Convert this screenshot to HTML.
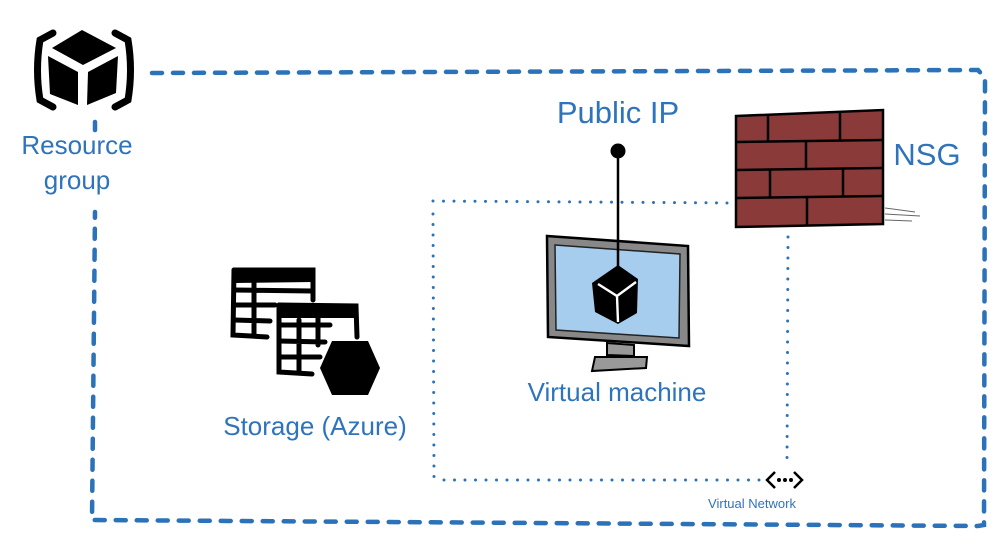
<!DOCTYPE html>
<html><head><meta charset="utf-8"><style>
html,body{margin:0;padding:0;background:#fff;}
svg{display:block;}
text{font-family:"Liberation Sans","DejaVu Sans",sans-serif;fill:#2f74bb;}
</style></head><body>
<svg width="1001" height="545" viewBox="0 0 1001 545" xmlns="http://www.w3.org/2000/svg">
<g fill="none" stroke="#2b72b8" stroke-width="4.5" stroke-linecap="round" stroke-dasharray="10 11">
<path d="M152 73 L978 70 L985 78 L984 525 L978 526 L92 520 L95 212"/>
<path d="M95 122 L95 130"/>
</g>
<g fill="none" stroke="#2b72b8" stroke-width="3" stroke-linecap="round" stroke-dasharray="0 10.5">
<path d="M433 201 L735 203"/>
<path d="M433 214 L434 477"/>
<path d="M444 480 L762 480"/>
<path d="M788 237 L787 462"/>
</g>
<g fill="none" stroke="#000" stroke-width="2.5">
<path d="M775 472 L767 480 L775 488"/><path d="M794 472 L802 480 L794 488"/>
</g>
<circle cx="779" cy="480" r="2" fill="#000"/><circle cx="785" cy="480" r="2" fill="#000"/><circle cx="791" cy="480" r="2" fill="#000"/>
<text x="752" y="508" font-size="13" text-anchor="middle">Virtual Network</text>

<g fill="none" stroke="#000" stroke-width="7" stroke-linecap="round">
<path d="M53 33 L40 40 Q35 70 40 100 L53 107"/>
<path d="M115 33 L128 40 Q133 70 128 100 L115 107"/>
</g>
<path d="M82 30 L116 48 L83 65 L52 48 Z" fill="#000"/>
<path d="M48 56 L78 72 L78 105 L50 94 Z" fill="#000"/>
<path d="M88 72 L118 56 L116 93 L87 105 Z" fill="#000"/>
<text x="77" y="154" font-size="26" text-anchor="middle">Resource</text>
<text x="77" y="189" font-size="26" text-anchor="middle">group</text>

<text x="618" y="123" font-size="31" text-anchor="middle">Public IP</text>

<path d="M547 236 L688 246 L689 346 L548 337 Z" fill="#888" stroke="#000" stroke-width="2.5"/>
<path d="M555 245 L680 254 L679 338 L556 330 Z" fill="#a6cdee" stroke="#222" stroke-width="1.5"/>
<path d="M607 343 L634 345 L634 356 L607 355 Z" fill="#999" stroke="#000" stroke-width="2"/>
<path d="M595 357 L647 357 L646 368 L592 371 Z" fill="#999" stroke="#000" stroke-width="2"/>
<circle cx="618" cy="151" r="7.5" fill="#000"/>
<line x1="618" y1="151" x2="618" y2="268" stroke="#000" stroke-width="2.5"/>
<path d="M618 265 L638 279 L637 313 L618 324 L595 312 L592 283 Z" fill="#000"/>
<path d="M598 284 L617 296 L636 282 M617 296 L618 322" stroke="#fff" stroke-width="2.4" fill="none"/>
<text x="617" y="401" font-size="26" text-anchor="middle">Virtual machine</text>

<path d="M736 116 L883 110 L883 224 L736 227 Z" fill="#8b3a3a" stroke="#000" stroke-width="2.5"/>
<g stroke="#000" stroke-width="2.5" fill="none">
<path d="M736 142 L883 140 M736 170 L883 168 M736 198 L883 196"/>
<path d="M768 114 L768 142 M840 112 L840 141 M806 142 L806 170 M770 170 L770 198 M843 168 L843 197 M807 198 L807 226"/>
</g>
<g stroke="#000" stroke-width="1" opacity="0.6">
<path d="M885 208 L915 212 M885 214 L920 216 M885 220 L912 221"/>
</g>
<text x="927" y="165" font-size="31" text-anchor="middle">NSG</text>

<g fill="none" stroke="#000" stroke-width="5" stroke-linecap="round">
<path d="M234 270 L313 270 L313 300"/>
<path d="M234 270 L233 335 L267 337"/>
<path d="M234 290 L312 291 M234 305 L275 305 M234 320 L270 321 M254 280 L254 336"/>
<path d="M279 305 L356 306 L357 337"/>
<path d="M279 305 L279 372 L312 374"/>
<path d="M279 325 L330 325 M279 341 L325 342 M279 357 L320 357 M299 320 L299 372 M318 316 L318 345"/>
</g>
<path d="M234 270 L313 270 L313 282 L234 283 Z" fill="#000"/>
<path d="M279 305 L356 306 L356 318 L279 318 Z" fill="#000"/>
<path d="M332 341 L368 341 L380 368 L368 395 L332 395 L320 368 Z" fill="#000"/>
<text x="315" y="435" font-size="26" text-anchor="middle">Storage (Azure)</text>
</svg>
</body></html>
